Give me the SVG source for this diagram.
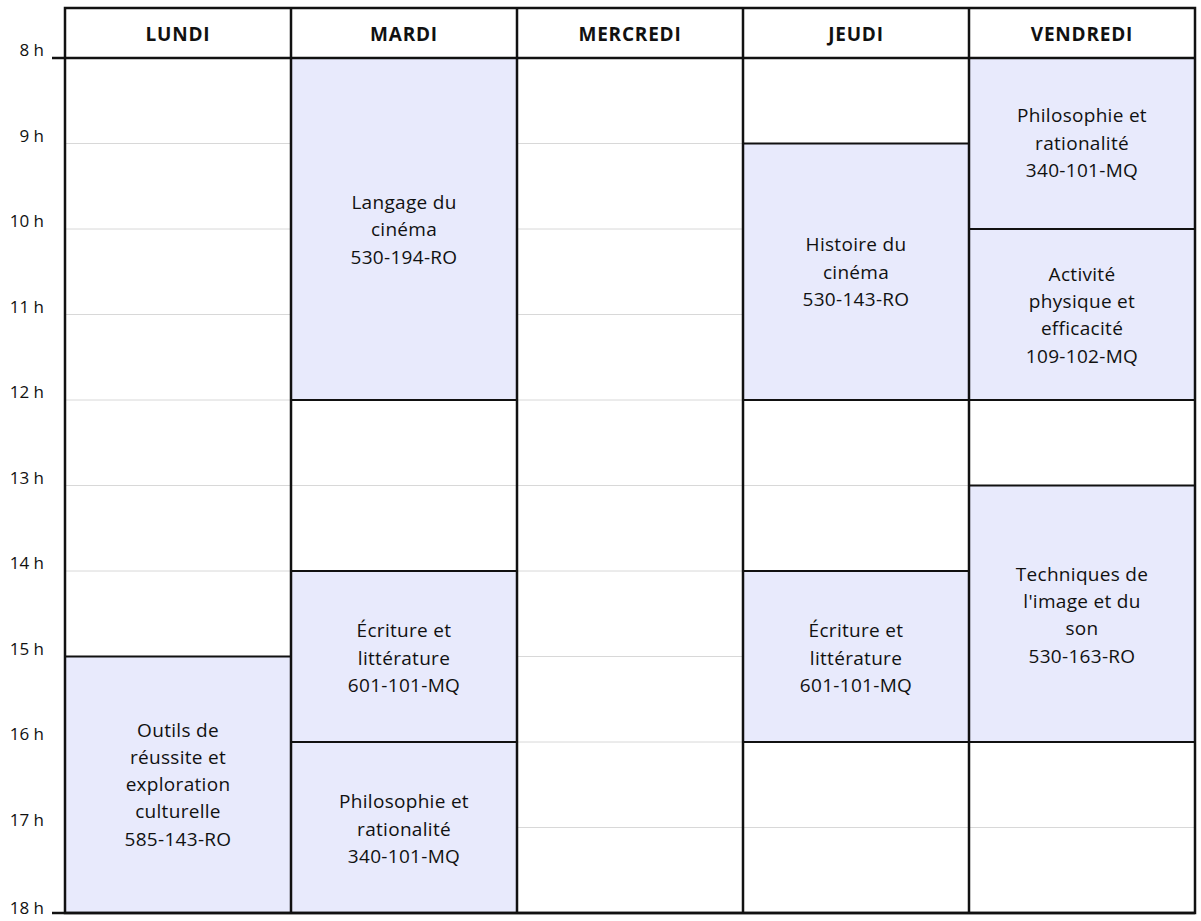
<svg xmlns="http://www.w3.org/2000/svg" width="1201" height="921" viewBox="0 0 1201 921">
<style>
.g{stroke:#d8d8d8;stroke-width:1}
.b{fill:#e8eafc;stroke:#111;stroke-width:2}
.c{fill:none;stroke:#111;stroke-width:2.5}
.t{font-family:"Open Sans","Noto Sans",sans-serif;font-size:19px;fill:#111;text-anchor:middle;letter-spacing:0.3px}
.h{font-family:"Open Sans","Noto Sans",sans-serif;font-size:19px;font-weight:bold;fill:#111;text-anchor:middle;letter-spacing:0.8px}
.r{font-family:"Open Sans","Noto Sans",sans-serif;font-size:17px;fill:#111;text-anchor:end}
</style>
<rect width="1201" height="921" fill="#fff"/>
<g id="grid">
<line class="g" x1="65" y1="143.5" x2="1195" y2="143.5"/>
<line class="g" x1="65" y1="229" x2="1195" y2="229"/>
<line class="g" x1="65" y1="314.5" x2="1195" y2="314.5"/>
<line class="g" x1="65" y1="400" x2="1195" y2="400"/>
<line class="g" x1="65" y1="485.5" x2="1195" y2="485.5"/>
<line class="g" x1="65" y1="571" x2="1195" y2="571"/>
<line class="g" x1="65" y1="656.5" x2="1195" y2="656.5"/>
<line class="g" x1="65" y1="742" x2="1195" y2="742"/>
<line class="g" x1="65" y1="827.5" x2="1195" y2="827.5"/>
</g>
<g id="blocks">
<rect class="b" x="65" y="656.5" width="226" height="256.5"/>
<rect class="b" x="291" y="58" width="226" height="342"/>
<rect class="b" x="291" y="571" width="226" height="171"/>
<rect class="b" x="291" y="742" width="226" height="171"/>
<rect class="b" x="743" y="143.5" width="226" height="256.5"/>
<rect class="b" x="743" y="571" width="226" height="171"/>
<rect class="b" x="969" y="58" width="226" height="171"/>
<rect class="b" x="969" y="229" width="226" height="171"/>
<rect class="b" x="969" y="485.5" width="226" height="256.5"/>
</g>
<g id="frame">
<rect class="c" x="65" y="8" width="1130" height="905"/>
<line class="c" x1="52" y1="58" x2="1195" y2="58"/>
<line class="c" x1="52" y1="913" x2="1195" y2="913"/>
<line class="c" x1="291" y1="8" x2="291" y2="913"/>
<line class="c" x1="517" y1="8" x2="517" y2="913"/>
<line class="c" x1="743" y1="8" x2="743" y2="913"/>
<line class="c" x1="969" y1="8" x2="969" y2="913"/>
</g>
<g id="headers">
<text class="h" x="178" y="41">LUNDI</text>
<text class="h" x="404" y="41">MARDI</text>
<text class="h" x="630" y="41">MERCREDI</text>
<text class="h" x="856" y="41">JEUDI</text>
<text class="h" x="1082" y="41">VENDREDI</text>
</g>
<g id="hours">
<text class="r" x="44" y="56">8 h</text>
<text class="r" x="44" y="142">9 h</text>
<text class="r" x="44" y="227">10 h</text>
<text class="r" x="44" y="313">11 h</text>
<text class="r" x="44" y="398">12 h</text>
<text class="r" x="44" y="484">13 h</text>
<text class="r" x="44" y="569">14 h</text>
<text class="r" x="44" y="655">15 h</text>
<text class="r" x="44" y="740">16 h</text>
<text class="r" x="44" y="826">17 h</text>
<text class="r" x="44" y="914">18 h</text>
</g>
<g id="labels">
<text class="t" x="178" y="737">Outils de</text>
<text class="t" x="178" y="764">réussite et</text>
<text class="t" x="178" y="791">exploration</text>
<text class="t" x="178" y="818">culturelle</text>
<text class="t" x="178" y="846">585-143-RO</text>
<text class="t" x="404" y="209">Langage du</text>
<text class="t" x="404" y="236">cinéma</text>
<text class="t" x="404" y="264">530-194-RO</text>
<text class="t" x="404" y="637">Écriture et</text>
<text class="t" x="404" y="665">littérature</text>
<text class="t" x="404" y="692">601-101-MQ</text>
<text class="t" x="404" y="808">Philosophie et</text>
<text class="t" x="404" y="836">rationalité</text>
<text class="t" x="404" y="863">340-101-MQ</text>
<text class="t" x="856" y="251">Histoire du</text>
<text class="t" x="856" y="279">cinéma</text>
<text class="t" x="856" y="306">530-143-RO</text>
<text class="t" x="856" y="637">Écriture et</text>
<text class="t" x="856" y="665">littérature</text>
<text class="t" x="856" y="692">601-101-MQ</text>
<text class="t" x="1082" y="122">Philosophie et</text>
<text class="t" x="1082" y="150">rationalité</text>
<text class="t" x="1082" y="177">340-101-MQ</text>
<text class="t" x="1082" y="281">Activité</text>
<text class="t" x="1082" y="308">physique et</text>
<text class="t" x="1082" y="335">efficacité</text>
<text class="t" x="1082" y="363">109-102-MQ</text>
<text class="t" x="1082" y="581">Techniques de</text>
<text class="t" x="1082" y="608">l'image et du</text>
<text class="t" x="1082" y="635">son</text>
<text class="t" x="1082" y="663">530-163-RO</text>
</g>
</svg>
